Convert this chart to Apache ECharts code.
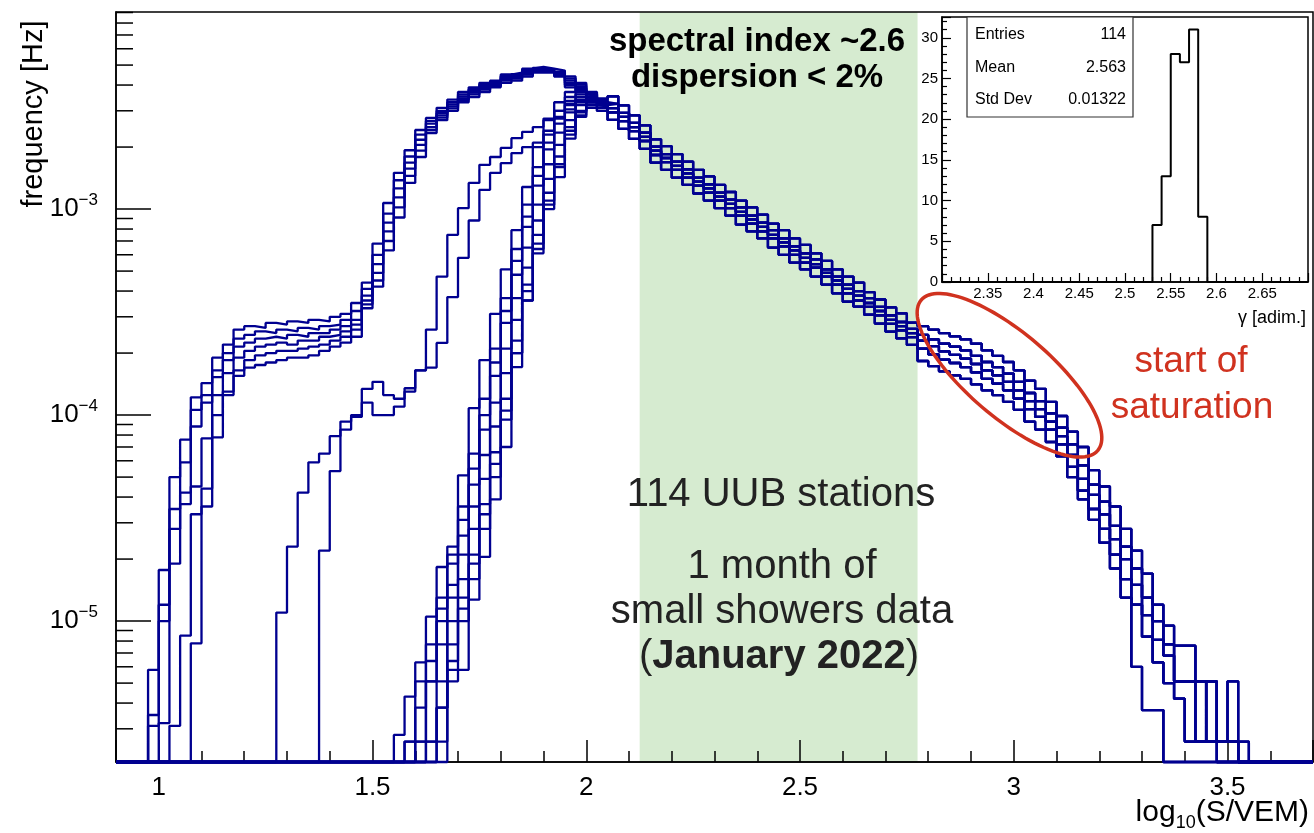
<!DOCTYPE html>
<html>
<head>
<meta charset="utf-8">
<script src="https://cdn.jsdelivr.net/npm/echarts@6.0.0/dist/echarts.min.js"></script>
<style>html,body{margin:0;padding:0;background:#fff}#c{width:1314px;height:833px}</style>
</head>
<body>
<div id="c"></div>
<script>
// ---------------- DATA ----------------
// Histogram binning of log10(S/VEM)
const BIN_WIDTH = 0.025;
const X_MIN = 0.9, X_MAX = 3.7;
const Y_MIN = 2.07e-6, Y_MAX = 9.05e-3;
const TAIL_START = 2.05;

// Low-energy parts (heads) of the station histograms, frequency [Hz] per bin
const headStartA = 0.95;
const headA1 = [0,5.8e-6,1.77e-5,5.0e-5,7.6e-5,1.22e-4,1.43e-4,1.9e-4,2.2e-4,2.6e-4,2.7e-4,2.65e-4,2.8e-4,2.75e-4,2.85e-4,2.8e-4,2.9e-4,2.85e-4,3.0e-4,3.1e-4,3.5e-4,4.4e-4,6.8e-4,1.07e-3,1.5e-3,1.93e-3,2.42e-3,2.77e-3,3.1e-3,3.4e-3,3.7e-3,3.9e-3,4.1e-3,4.2e-3,4.5e-3,4.6e-3,4.8e-3,4.9e-3,4.8e-3,4.7e-3,4.4e-3,4.1e-3,3.7e-3,3.45e-3];
const headA2 = [0,3.5e-6,1.2e-5,3.5e-5,5.9e-5,1.06e-4,1.25e-4,1.65e-4,2.0e-4,2.35e-4,2.45e-4,2.55e-4,2.5e-4,2.6e-4,2.55e-4,2.65e-4,2.6e-4,2.7e-4,2.75e-4,2.9e-4,3.2e-4,4.1e-4,6.0e-4,9.5e-4,1.38e-3,1.8e-3,2.3e-3,2.68e-3,3.0e-3,3.3e-3,3.6e-3,3.82e-3,4.02e-3,4.14e-3,4.42e-3,4.52e-3,4.72e-3,4.84e-3,4.76e-3,4.64e-3,4.3e-3,4.02e-3,3.6e-3,3.35e-3];
const headA3 = [0,3.1e-6,1.0e-5,2.8e-5,4.2e-5,8.8e-5,1.15e-4,1.53e-4,1.85e-4,2.15e-4,2.25e-4,2.35e-4,2.4e-4,2.35e-4,2.45e-4,2.4e-4,2.5e-4,2.5e-4,2.6e-4,2.7e-4,2.9e-4,3.8e-4,5.4e-4,8.6e-4,1.26e-3,1.68e-3,2.17e-3,2.6e-3,2.92e-3,3.22e-3,3.52e-3,3.75e-3,3.95e-3,4.08e-3,4.35e-3,4.45e-3,4.65e-3,4.78e-3,4.72e-3,4.58e-3,4.2e-3,3.94e-3,3.5e-3,3.3e-3];
const headA4 = [0,0,3.2e-6,1.9e-5,3.7e-5,4.5e-5,7.7e-5,1.25e-4,1.6e-4,1.9e-4,2.05e-4,2.15e-4,2.2e-4,2.25e-4,2.2e-4,2.3e-4,2.3e-4,2.4e-4,2.45e-4,2.55e-4,2.75e-4,3.6e-4,4.9e-4,7.8e-4,1.14e-3,1.57e-3,2.05e-3,2.5e-3,2.85e-3,3.15e-3,3.45e-3,3.68e-3,3.88e-3,4.02e-3,4.28e-3,4.38e-3,4.58e-3,4.72e-3,4.68e-3,4.52e-3,4.1e-3,3.86e-3,3.4e-3,3.2e-3];
const headA5 = [0,0,0,3.1e-6,8.5e-6,3.3e-5,4.4e-5,7.8e-5,1.25e-4,1.65e-4,1.85e-4,1.95e-4,2.0e-4,2.05e-4,2.05e-4,2.1e-4,2.15e-4,2.2e-4,2.3e-4,2.4e-4,2.6e-4,3.45e-4,4.5e-4,7.0e-4,1.02e-3,1.45e-3,1.92e-3,2.42e-3,2.78e-3,3.08e-3,3.38e-3,3.6e-3,3.8e-3,3.96e-3,4.2e-3,4.3e-3,4.5e-3,4.66e-3,4.64e-3,4.46e-3,4.0e-3,3.78e-3,3.3e-3,3.1e-3];
const headA6 = [0,0,0,0,0,7.8e-6,3.6e-5,1.0e-4,1.3e-4,1.55e-4,1.7e-4,1.75e-4,1.8e-4,1.85e-4,1.9e-4,1.9e-4,1.95e-4,2.05e-4,2.15e-4,2.25e-4,2.4e-4,3.3e-4,4.2e-4,6.3e-4,9.1e-4,1.34e-3,1.79e-3,2.34e-3,2.7e-3,3.0e-3,3.3e-3,3.5e-3,3.7e-3,3.9e-3,4.1e-3,4.2e-3,4.4e-3,4.6e-3,4.6e-3,4.4e-3,3.9e-3,3.7e-3,3.2e-3,3.0e-3];

const headStartB1 = 1.275;
const headB1 = [1.1e-5,2.3e-5,4.2e-5,5.9e-5,6.5e-5,7.9e-5,9.3e-5,1.0e-4,1.34e-4,1.45e-4,1.25e-4,1.2e-4,1.35e-4,1.65e-4,2.6e-4,4.7e-4,7.5e-4,1.01e-3,1.34e-3,1.64e-3,1.79e-3,1.98e-3,2.21e-3,2.37e-3,2.5e-3,2.75e-3,3.0e-3,3.25e-3,3.4e-3,3.45e-3,3.3e-3];
const headStartB2 = 1.375;
const headB2 = [2.2e-5,5.35e-5,8.5e-5,9.8e-5,1.15e-4,1.0e-4,1.0e-4,1.1e-4,1.3e-4,1.65e-4,1.7e-4,2.24e-4,3.74e-4,5.8e-4,8.8e-4,1.24e-3,1.5e-3,1.67e-3,1.87e-3,2.0e-3,2.1e-3,2.4e-3,2.75e-3,3.05e-3,3.3e-3,3.4e-3,3.25e-3];

const headStartC = 1.55;
const headC1  = [2.8e-6,4.3e-6,6.3e-6,1.05e-5,1.83e-5,2.3e-5,5.1e-5,1.08e-4,1.85e-4,3.1e-4,5.1e-4,7.9e-4,1.28e-3,2.0e-3,2.7e-3,3.3e-3,3.7e-3,3.8e-3,3.65e-3,3.4e-3];
const headC2  = [0,2.6e-6,5.1e-6,7.7e-6,1.3e-5,2.1e-5,3.6e-5,6.5e-5,1.2e-4,2.1e-4,3.7e-4,6.4e-4,1.05e-3,1.6e-3,2.3e-3,3.0e-3,3.5e-3,3.7e-3,3.6e-3,3.35e-3];
const headC3  = [0,2.6e-6,2.6e-6,5.1e-6,1.0e-5,1.5e-5,2.6e-5,4.6e-5,8.5e-5,1.55e-4,2.8e-4,4.8e-4,8.2e-4,1.3e-3,1.95e-3,2.6e-3,3.2e-3,3.5e-3,3.5e-3,3.3e-3];
const headC4  = [0,0,2.6e-6,5.1e-6,7.7e-6,1.3e-5,2.1e-5,3.6e-5,6.4e-5,1.15e-4,2.1e-4,3.7e-4,6.5e-4,1.05e-3,1.65e-3,2.35e-3,2.95e-3,3.35e-3,3.4e-3,3.2e-3];
const headC5  = [0,0,0,2.6e-6,5.1e-6,1.0e-5,1.6e-5,2.8e-5,4.9e-5,8.8e-5,1.6e-4,2.9e-4,5.2e-4,8.8e-4,1.4e-3,2.05e-3,2.7e-3,3.2e-3,3.4e-3,3.3e-3];
const headC6  = [0,0,0,2.6e-6,3.8e-6,7.7e-6,1.3e-5,2.1e-5,3.7e-5,6.6e-5,1.2e-4,2.3e-4,4.3e-4,7.5e-4,1.2e-3,1.8e-3,2.5e-3,3.0e-3,3.3e-3,3.2e-3];
const headC7  = [0,0,0,0,2.6e-6,5.1e-6,1.0e-5,1.6e-5,2.8e-5,5.0e-5,9.5e-5,2.0e-4,4.0e-4,6.8e-4,1.1e-3,1.65e-3,2.4e-3,2.95e-3,3.2e-3,3.1e-3];
const headC8  = [0,0,0,0,0,5.8e-6,5.8e-6,1.27e-5,2.05e-5,3.9e-5,7.0e-5,1.71e-4,3.6e-4,6.1e-4,1.0e-3,1.43e-3,2.2e-3,2.8e-3,3.1e-3,3.0e-3];
const headC9  = [0,0,3.8e-6,6.4e-6,1.15e-5,1.9e-5,3.1e-5,5.5e-5,1.0e-4,1.8e-4,3.2e-4,5.6e-4,9.2e-4,1.45e-3,2.1e-3,2.8e-3,3.35e-3,3.6e-3,3.55e-3,3.35e-3];
const headC10 = [0,0,0,0,3.8e-6,6.4e-6,1.15e-5,1.9e-5,3.3e-5,5.8e-5,1.05e-4,2.0e-4,3.6e-4,6.4e-4,1.05e-3,1.6e-3,2.3e-3,2.85e-3,3.2e-3,3.15e-3];

// High-energy parts (tails) from log10(S/VEM) = 2.05, frequency [Hz] per bin
const tailT1 = [3.53e-3,3.19e-3,2.85e-3,2.55e-3,2.18e-3,2.02e-3,1.85e-3,1.70e-3,1.55e-3,1.44e-3,1.31e-3,1.21e-3,1.10e-3,1.02e-3,9.4e-4,8.5e-4,7.9e-4,7.2e-4,6.7e-4,6.1e-4,5.6e-4,5.1e-4,4.7e-4,4.4e-4,3.95e-4,3.64e-4,3.33e-4,3.12e-4,2.81e-4,
  2.7e-4,2.6e-4,2.5e-4,2.41e-4,2.33e-4,2.22e-4,2.06e-4,1.94e-4,1.81e-4,1.65e-4,1.47e-4,1.34e-4,1.16e-4,9.9e-5,
  8.3e-5,7.0e-5,5.4e-5,4.5e-5,3.6e-5,2.8e-5,2.2e-5,1.7e-5,1.2e-5,9.5e-6,7.6e-6,7.6e-6,5.1e-6,5.1e-6,2.6e-6,5.1e-6,2.6e-6];
const tailT2 = [3.24e-3,2.93e-3,2.62e-3,2.35e-3,2.01e-3,1.85e-3,1.70e-3,1.56e-3,1.42e-3,1.32e-3,1.20e-3,1.11e-3,1.02e-3,9.3e-4,8.6e-4,7.9e-4,7.2e-4,6.6e-4,6.1e-4,5.7e-4,5.1e-4,4.7e-4,4.3e-4,4.0e-4,3.7e-4,3.35e-4,3.05e-4,2.83e-4,2.62e-4,
  2.45e-4,2.33e-4,2.22e-4,2.15e-4,2.06e-4,1.94e-4,1.81e-4,1.71e-4,1.59e-4,1.45e-4,1.28e-4,1.17e-4,1.02e-4,8.7e-5,
  7.2e-5,5.7e-5,4.6e-5,3.8e-5,2.9e-5,2.3e-5,1.8e-5,1.3e-5,1.0e-5,7.7e-6,5.1e-6,5.1e-6,5.1e-6,2.6e-6,2.6e-6,2.6e-6,0];
const tailT3 = [3.09e-3,2.80e-3,2.50e-3,2.24e-3,1.92e-3,1.77e-3,1.62e-3,1.49e-3,1.36e-3,1.26e-3,1.15e-3,1.06e-3,9.7e-4,8.9e-4,8.2e-4,7.5e-4,6.9e-4,6.3e-4,5.8e-4,5.4e-4,4.9e-4,4.5e-4,4.1e-4,3.8e-4,3.5e-4,3.2e-4,2.9e-4,2.7e-4,2.5e-4,
  2.3e-4,2.16e-4,2.04e-4,1.96e-4,1.88e-4,1.77e-4,1.65e-4,1.56e-4,1.45e-4,1.32e-4,1.17e-4,1.07e-4,9.3e-5,7.9e-5,
  6.4e-5,4.9e-5,4.1e-5,3.3e-5,2.5e-5,2.0e-5,1.5e-5,1.07e-5,8.1e-6,6.8e-6,5.1e-6,5.1e-6,2.6e-6,5.1e-6,2.6e-6,2.6e-6,0];
const tailT4 = [2.95e-3,2.67e-3,2.39e-3,2.14e-3,1.83e-3,1.69e-3,1.55e-3,1.42e-3,1.30e-3,1.20e-3,1.10e-3,1.01e-3,9.3e-4,8.5e-4,7.8e-4,7.2e-4,6.6e-4,6.0e-4,5.5e-4,5.2e-4,4.7e-4,4.3e-4,3.9e-4,3.6e-4,3.35e-4,3.05e-4,2.77e-4,2.58e-4,2.39e-4,
  2.10e-4,1.97e-4,1.86e-4,1.79e-4,1.71e-4,1.61e-4,1.50e-4,1.42e-4,1.32e-4,1.20e-4,1.07e-4,9.8e-5,8.5e-5,7.2e-5,
  5.6e-5,4.3e-5,3.5e-5,2.8e-5,2.1e-5,1.6e-5,1.2e-5,8.4e-6,6.3e-6,5.0e-6,4.2e-6,2.6e-6,2.6e-6,2.6e-6];
const tailT5 = [2.71e-3,2.45e-3,2.19e-3,1.96e-3,1.68e-3,1.55e-3,1.42e-3,1.31e-3,1.19e-3,1.10e-3,1.01e-3,9.3e-4,8.4e-4,7.8e-4,7.2e-4,6.5e-4,6.0e-4,5.5e-4,5.1e-4,4.7e-4,4.3e-4,3.9e-4,3.55e-4,3.36e-4,3.07e-4,2.78e-4,2.54e-4,2.36e-4,2.19e-4,
  1.83e-4,1.73e-4,1.63e-4,1.56e-4,1.50e-4,1.41e-4,1.32e-4,1.25e-4,1.16e-4,1.06e-4,9.3e-5,8.5e-5,7.4e-5,6.3e-5,
  5.0e-5,3.9e-5,3.1e-5,2.4e-5,1.8e-5,1.3e-5,6.0e-6,3.7e-6,3.7e-6];

// Stations: [head, head start, tail]
const stations = [
  [headA1, headStartA, tailT1], [headA2, headStartA, tailT2], [headA3, headStartA, tailT3],
  [headA4, headStartA, tailT4], [headA5, headStartA, tailT5], [headA6, headStartA, tailT3],
  [headB1, headStartB1, tailT2], [headB2, headStartB2, tailT4],
  [headC1, headStartC, tailT1], [headC2, headStartC, tailT2], [headC3, headStartC, tailT3],
  [headC4, headStartC, tailT4], [headC5, headStartC, tailT3], [headC6, headStartC, tailT2],
  [headC7, headStartC, tailT4], [headC8, headStartC, tailT5], [headC9, headStartC, tailT1],
  [headC10, headStartC, tailT5]
];

// Fit range (shaded) and saturation region marker centre
const fitRange = [2.125, 2.775];
const saturationCenter = [2.99, 1.56e-4];

// Inset: distribution of spectral index gamma
const gammaMin = 2.3, gammaMax = 2.7, gammaYMax = 32.55;
const gammaFirstEdge = 2.53, gammaBinWidth = 0.01;
const gammaCounts = [7, 13, 28, 27, 31, 8];
const statLabels = ['Entries', 'Mean', 'Std Dev'];
const statValues = ['114', '2.563', '0.01322'];

// Log axis minor ticks (ROOT style)
const minorMantissas = [2, 3, 4, 5, 6, 7, 8, 9];
const minorDecades = [1e-6, 1e-5, 1e-4, 1e-3];

// ---------------- BUILD ----------------
const NBINS = Math.round((X_MAX - X_MIN) / BIN_WIDTH);
function buildStation(head, headStart, tail) {
  const vals = new Array(NBINS).fill(0);
  const hi = Math.round((headStart - X_MIN) / BIN_WIDTH);
  head.forEach((v, k) => { vals[hi + k] = v; });
  const ti = Math.round((TAIL_START - X_MIN) / BIN_WIDTH);
  tail.forEach((v, k) => { vals[ti + k] = v; });
  const pts = [];
  for (let i = 0; i < NBINS; i++) {
    pts.push([+(X_MIN + i * BIN_WIDTH).toFixed(4), vals[i] > 0 ? vals[i] : Y_MIN]);
  }
  pts.push([X_MAX, pts[NBINS - 1][1]]);
  return pts;
}
const yMinorTicks = [];
minorDecades.forEach(d => minorMantissas.forEach(m => {
  const v = m * d;
  if (v > Y_MIN && v < Y_MAX) yMinorTicks.push(v);
}));
const gammaData = [[gammaMin, 0]];
gammaData.push([+(gammaFirstEdge - gammaBinWidth).toFixed(3), 0]);
gammaCounts.forEach((c, k) => gammaData.push([+(gammaFirstEdge + k * gammaBinWidth).toFixed(3), c]));
gammaData.push([+(gammaFirstEdge + gammaCounts.length * gammaBinWidth).toFixed(3), 0]);
gammaData.push([gammaMax, 0]);

const FONT = '"Liberation Sans", Arial, Helvetica, sans-serif';
const BLUE = '#000090';
const RED = '#d0321f';

const series = [];
// shaded fit range
series.push({
  type: 'custom', xAxisIndex: 0, yAxisIndex: 0, z: -1, silent: true, animation: false,
  data: [[fitRange[0], fitRange[1]]], encode: { x: [0, 1] },
  renderItem: (p, api) => {
    const a = api.coord([api.value(0), Y_MAX]);
    const b = api.coord([api.value(1), Y_MIN]);
    return { type: 'rect', shape: { x: a[0], y: a[1], width: b[0] - a[0], height: b[1] - a[1] },
      style: { fill: '#d6ebd0' } };
  }
});
// station histograms
stations.forEach(([head, start, tail]) => {
  series.push({
    type: 'line', xAxisIndex: 0, yAxisIndex: 0, step: 'end', showSymbol: false, symbol: 'none',
    data: buildStation(head, start, tail), clip: false, silent: true, animation: false, z: 2,
    lineStyle: { color: BLUE, width: 2.3 }
  });
});
// y minor ticks
series.push({
  type: 'custom', xAxisIndex: 0, yAxisIndex: 0, z: 4, silent: true, animation: false, clip: false,
  data: yMinorTicks.map(v => [X_MIN, v]),
  renderItem: (p, api) => {
    const c = api.coord([api.value(0), api.value(1)]);
    return { type: 'line', shape: { x1: c[0], y1: c[1], x2: c[0] + 17, y2: c[1] },
      style: { stroke: '#000', lineWidth: 1.5 } };
  }
});
// saturation ellipse
series.push({
  type: 'custom', xAxisIndex: 0, yAxisIndex: 0, z: 10, silent: true, animation: false, clip: false,
  data: [saturationCenter],
  renderItem: (p, api) => {
    const c = api.coord([api.value(0), api.value(1)]);
    const phi = 40.5 * Math.PI / 180, ra = 116, rb = 42;
    const pts = [];
    for (let k = 0; k <= 120; k++) {
      const t = 2 * Math.PI * k / 120;
      const ex = ra * Math.cos(t), ey = rb * Math.sin(t);
      pts.push([c[0] + ex * Math.cos(phi) - ey * Math.sin(phi), c[1] + ex * Math.sin(phi) + ey * Math.cos(phi)]);
    }
    return { type: 'polygon', shape: { points: pts }, style: { fill: 'none', stroke: RED, lineWidth: 3.5 } };
  }
});
// inset histogram
series.push({
  type: 'line', xAxisIndex: 1, yAxisIndex: 1, step: 'end', showSymbol: false, symbol: 'none',
  data: gammaData, silent: true, animation: false, clip: false, z: 6,
  lineStyle: { color: '#000', width: 2 }
});

const axisBlack = { lineStyle: { color: '#000', width: 1.5 } };

const option = {
  animation: false,
  backgroundColor: '#fff',
  grid: [
    { left: 116, top: 12, width: 1197, height: 750, show: true, borderColor: '#000', borderWidth: 1.5, backgroundColor: 'transparent', outerBoundsMode: 'none' },
    { left: 942, top: 17, width: 366, height: 265, show: true, borderColor: '#000', borderWidth: 1.5, backgroundColor: 'transparent', outerBoundsMode: 'none', z: 5 }
  ],
  xAxis: [
    { gridIndex: 0, type: 'value', min: X_MIN, max: X_MAX, splitNumber: 5,
      axisLine: axisBlack, splitLine: { show: false },
      axisTick: { inside: true, length: 22, lineStyle: { color: '#000', width: 1.5 } },
      minorTick: { show: true, splitNumber: 5, length: 11, lineStyle: { color: '#000', width: 1.5 } },
      axisLabel: { showMinLabel: false, showMaxLabel: false, fontSize: 26, fontFamily: FONT, color: '#000', margin: 13 } },
    { gridIndex: 1, type: 'value', min: gammaMin, max: gammaMax, interval: 0.05, z: 5,
      axisLine: axisBlack, splitLine: { show: false },
      axisTick: { inside: true, length: 9, lineStyle: { color: '#000', width: 1.2 } },
      minorTick: { show: true, splitNumber: 5, length: 5, lineStyle: { color: '#000', width: 1.2 } },
      axisLabel: { showMinLabel: false, showMaxLabel: false, fontSize: 15, fontFamily: FONT, color: '#000', margin: 4 } }
  ],
  yAxis: [
    { gridIndex: 0, type: 'log', logBase: 10, min: Y_MIN, max: Y_MAX,
      axisLine: axisBlack, splitLine: { show: false },
      axisTick: { inside: true, length: 35, lineStyle: { color: '#000', width: 1.5 } },
      minorTick: { show: false },
      axisLabel: {
        showMinLabel: false, showMaxLabel: false, margin: 18, color: '#000',
        formatter: v => {
          const l = Math.log10(v), e = Math.round(l);
          if (Math.abs(l - e) > 1e-6) return '';
          return '{b|10}{s|\u2212' + Math.abs(e) + '}';
        },
        rich: {
          b: { fontSize: 26, fontFamily: FONT, color: '#000' },
          s: { fontSize: 17, fontFamily: FONT, color: '#000', padding: [0, 0, 18, 0] }
        }
      } },
    { gridIndex: 1, type: 'value', min: 0, max: gammaYMax, interval: 5, z: 5,
      axisLine: axisBlack, splitLine: { show: false },
      axisTick: { inside: true, length: 9, lineStyle: { color: '#000', width: 1.2 } },
      minorTick: { show: true, splitNumber: 5, length: 5, lineStyle: { color: '#000', width: 1.2 } },
      axisLabel: { showMaxLabel: false, fontSize: 15, fontFamily: FONT, color: '#000', margin: 4 } }
  ],
  series: series,
  graphic: [
    { type: 'text', x: 34, y: 114, rotation: Math.PI / 2, z: 20,
      style: { text: 'frequency [Hz]', font: '29px ' + FONT, fill: '#000', align: 'center', verticalAlign: 'middle' } },
    { type: 'text', x: 1309, y: 813, z: 20,
      style: { text: '{a|log}{b|10}{a|(S/VEM)}', align: 'right', verticalAlign: 'middle',
        rich: { a: { fontSize: 30, fontFamily: FONT, fill: '#000' }, b: { fontSize: 18, fontFamily: FONT, fill: '#000', padding: [20, 0, 0, 0] } } } },
    { type: 'text', x: 757, y: 42, z: 20,
      style: { text: 'spectral index ~2.6', font: 'bold 33px ' + FONT, fill: '#000', align: 'center', verticalAlign: 'middle' } },
    { type: 'text', x: 757, y: 78, z: 20,
      style: { text: 'dispersion < 2%', font: 'bold 33px ' + FONT, fill: '#000', align: 'center', verticalAlign: 'middle' } },
    { type: 'text', x: 781, y: 495, z: 20,
      style: { text: '114 UUB stations', font: '40px ' + FONT, fill: '#222', align: 'center', verticalAlign: 'middle' } },
    { type: 'text', x: 782, y: 567, z: 20,
      style: { text: '1 month of', font: '40px ' + FONT, fill: '#222', align: 'center', verticalAlign: 'middle' } },
    { type: 'text', x: 782, y: 612, z: 20,
      style: { text: 'small showers data', font: '40px ' + FONT, fill: '#222', align: 'center', verticalAlign: 'middle' } },
    { type: 'text', x: 779, y: 657, z: 20,
      style: { text: '{r|(}{b|January 2022}{r|)}', align: 'center', verticalAlign: 'middle',
        rich: { r: { fontSize: 40, fontFamily: FONT, fill: '#222' }, b: { fontSize: 40, fontFamily: FONT, fontWeight: 'bold', fill: '#222' } } } },
    { type: 'text', x: 1191, y: 362, z: 20,
      style: { text: 'start of', font: '37px ' + FONT, fill: RED, align: 'center', verticalAlign: 'middle' } },
    { type: 'text', x: 1192, y: 408, z: 20,
      style: { text: 'saturation', font: '37px ' + FONT, fill: RED, align: 'center', verticalAlign: 'middle' } },
    { type: 'text', x: 1306, y: 318, z: 20,
      style: { text: '\u03b3 [adim.]', font: '18px ' + FONT, fill: '#000', align: 'right', verticalAlign: 'middle' } },
    { type: 'rect', x: 967, y: 17, z: 20, shape: { width: 166, height: 100 },
      style: { fill: '#fff', stroke: '#333', lineWidth: 1.2 } },
    { type: 'text', x: 975, y: 35, z: 21, style: { text: statLabels[0], font: '16px ' + FONT, fill: '#000', align: 'left', verticalAlign: 'middle' } },
    { type: 'text', x: 975, y: 68, z: 21, style: { text: statLabels[1], font: '16px ' + FONT, fill: '#000', align: 'left', verticalAlign: 'middle' } },
    { type: 'text', x: 975, y: 100, z: 21, style: { text: statLabels[2], font: '16px ' + FONT, fill: '#000', align: 'left', verticalAlign: 'middle' } },
    { type: 'text', x: 1126, y: 35, z: 21, style: { text: statValues[0], font: '16px ' + FONT, fill: '#000', align: 'right', verticalAlign: 'middle' } },
    { type: 'text', x: 1126, y: 68, z: 21, style: { text: statValues[1], font: '16px ' + FONT, fill: '#000', align: 'right', verticalAlign: 'middle' } },
    { type: 'text', x: 1126, y: 100, z: 21, style: { text: statValues[2], font: '16px ' + FONT, fill: '#000', align: 'right', verticalAlign: 'middle' } }
  ]
};

const chart = echarts.init(document.getElementById('c'), null, { renderer: 'canvas', width: 1314, height: 833 });
chart.setOption(option);
</script>
</body>
</html>
